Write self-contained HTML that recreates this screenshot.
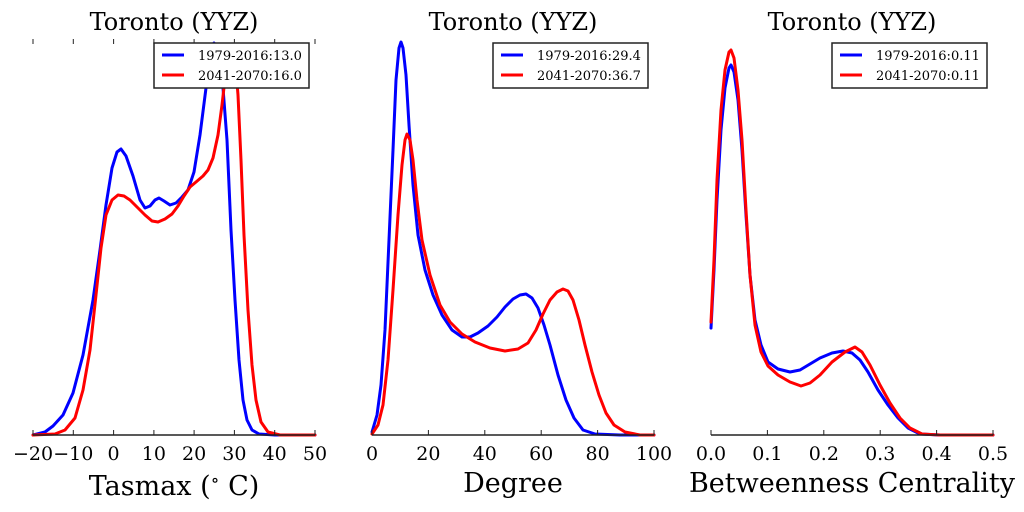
<!DOCTYPE html>
<html><head><meta charset="utf-8"><style>
html,body{margin:0;padding:0;background:#fff;}
svg{display:block;}
text{font-family:"DejaVu Serif","Liberation Serif",serif;fill:#000;}
</style></head><body>
<svg width="1024" height="512" viewBox="0 0 1024 512" xmlns="http://www.w3.org/2000/svg">
<g fill="none" stroke-linejoin="round" stroke-linecap="round" stroke-width="3">
<polyline stroke="#00f" points="33,435 45,432 53,426 63,415 73,393 83,355 93,300 100,250 106,205 112,168 117,152 121,149 126,156 133,176 140,200 145,208 150,206 155,200 159,198 164,201 170,205 176,203 182,197 188,190 194,172 200,135 206,88 211,55 214,43 218,50 222,75 227,140 231,230 235,300 239,360 243,400 247,420 252,430 259,434 275,435 315,435"/>
<polyline stroke="#f00" points="33,435 55,434 65,430 75,418 83,390 90,350 96,295 101,248 106,215 112,200 118,195 124,196 130,200 137,207 145,215 152,221 158,222 165,219 172,214 178,206 184,196 190,187 196,182 203,176 208,170 213,158 218,135 222,105 226,70 229,52 232,48 235,58 238,95 241,160 244,235 248,310 252,365 256,400 261,422 268,432 280,435 315,435"/>
<polyline stroke="#00f" points="372,432 377,415 381,385 385,330 389,240 393,150 396,80 399,48 401,42 403,48 406,75 409,125 413,185 418,235 425,270 433,295 442,315 452,330 462,337 470,337 478,333 488,326 497,317 505,307 513,299 520,295 526,294 532,298 538,308 544,325 550,345 558,375 566,400 574,418 583,430 595,434 620,435 654,435"/>
<polyline stroke="#f00" points="372,434 378,425 383,405 388,360 393,290 398,215 402,165 405,140 407,134 410,140 413,160 417,200 422,240 430,275 440,305 450,322 462,334 475,342 490,348 505,351 518,349 528,343 536,330 543,314 550,300 557,292 563,289 568,291 573,300 579,320 585,345 592,372 599,395 606,413 614,425 625,432 640,435 654,435"/>
<polyline stroke="#00f" points="711,328 714,270 717,200 721,130 725,88 729,68 731,65 734,72 738,100 742,150 746,215 750,275 755,320 761,345 768,362 778,369 790,372 800,370 810,364 820,358 832,353 843,351 852,353 860,360 868,372 878,390 888,405 898,418 908,428 920,434 940,435 993,435"/>
<polyline stroke="#f00" points="711,322 714,260 717,180 721,110 725,70 729,52 731,50 734,58 738,90 742,140 746,210 750,275 755,325 761,352 768,366 778,375 790,382 801,386 810,383 820,375 832,362 845,352 855,347 862,352 870,365 880,385 890,403 900,418 910,428 922,434 940,435 993,435"/>
</g>
<g stroke="#222" stroke-width="1.5" fill="none">
<line x1="33" y1="435" x2="315" y2="435"/>
<line x1="372" y1="435" x2="654" y2="435"/>
<line x1="711" y1="435" x2="993" y2="435"/>
</g>
<g stroke="#222" stroke-width="1">
<path d="M33,435v-5M73.3,435v-5M113.6,435v-5M153.9,435v-5M194.1,435v-5M234.4,435v-5M274.7,435v-5M315,435v-5
M33,39v5M73.3,39v5M113.6,39v5M153.9,39v5M194.1,39v5M234.4,39v5M274.7,39v5M315,39v5
M372,435v-5M428.4,435v-5M484.8,435v-5M541.2,435v-5M597.6,435v-5M654,435v-5
M711,435v-5M767.4,435v-5M823.8,435v-5M880.2,435v-5M936.6,435v-5M993,435v-5"/>
</g>
<g font-size="19" text-anchor="middle">
<text x="33" y="460">−20</text><text x="73.3" y="460">−10</text><text x="113.6" y="460">0</text><text x="153.9" y="460">10</text><text x="194.1" y="460">20</text><text x="234.4" y="460">30</text><text x="274.7" y="460">40</text><text x="315" y="460">50</text>
<text x="372" y="460">0</text><text x="428.4" y="460">20</text><text x="484.8" y="460">40</text><text x="541.2" y="460">60</text><text x="597.6" y="460">80</text><text x="654" y="460">100</text>
<text x="711" y="460">0.0</text><text x="767.4" y="460">0.1</text><text x="823.8" y="460">0.2</text><text x="880.2" y="460">0.3</text><text x="936.6" y="460">0.4</text><text x="993" y="460">0.5</text>
</g>
<g font-size="27" text-anchor="middle">
<text x="174" y="495">Tasmax (<tspan font-size="18" dy="-9">∘</tspan><tspan dy="9"> C)</tspan></text>
<text x="513" y="492">Degree</text>
<text x="852" y="492">Betweenness Centrality</text>
</g>
<g font-size="24" text-anchor="middle">
<text x="174" y="30">Toronto (YYZ)</text>
<text x="513" y="30">Toronto (YYZ)</text>
<text x="852" y="30">Toronto (YYZ)</text>
</g>
<g font-size="13">
<g transform="translate(154,43)">
<rect x="0" y="0" width="155" height="45" fill="#fff" stroke="#222" stroke-width="1.5"/>
<line x1="8" y1="12" x2="30" y2="12" stroke="#00f" stroke-width="3"/>
<line x1="8" y1="32" x2="30" y2="32" stroke="#f00" stroke-width="3"/>
<text x="44" y="17">1979-2016:13.0</text><text x="44" y="37">2041-2070:16.0</text>
</g>
<g transform="translate(493,43)">
<rect x="0" y="0" width="155" height="45" fill="#fff" stroke="#222" stroke-width="1.5"/>
<line x1="8" y1="12" x2="30" y2="12" stroke="#00f" stroke-width="3"/>
<line x1="8" y1="32" x2="30" y2="32" stroke="#f00" stroke-width="3"/>
<text x="44" y="17">1979-2016:29.4</text><text x="44" y="37">2041-2070:36.7</text>
</g>
<g transform="translate(832,43)">
<rect x="0" y="0" width="155" height="45" fill="#fff" stroke="#222" stroke-width="1.5"/>
<line x1="8" y1="12" x2="30" y2="12" stroke="#00f" stroke-width="3"/>
<line x1="8" y1="32" x2="30" y2="32" stroke="#f00" stroke-width="3"/>
<text x="44" y="17">1979-2016:0.11</text><text x="44" y="37">2041-2070:0.11</text>
</g>
</g>
</svg>
</body></html>
